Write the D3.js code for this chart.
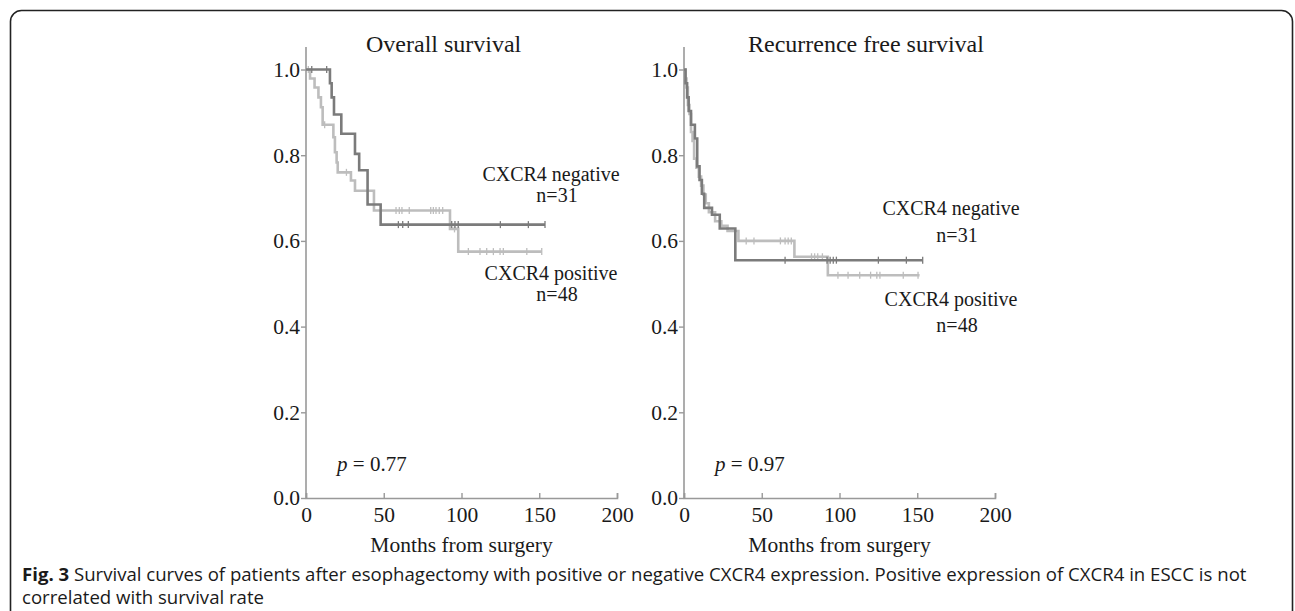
<!DOCTYPE html>
<html><head><meta charset="utf-8">
<script src="https://cdn.jsdelivr.net/npm/d3@7"></script>
<style>body{margin:0;background:#fff;overflow:hidden}</style>
</head><body><svg id="c" width="1295" height="611"></svg>
<script>
// ---- data ----
const xTicks = [0, 50, 100, 150, 200];
const yTicks = [0.0, 0.2, 0.4, 0.6, 0.8, 1.0];
const panelTitles = ["Overall survival", "Recurrence free survival"];
const pValues = ["0.77", "0.97"];
const groupNames = ["CXCR4 negative", "CXCR4 positive"];
const groupNs = ["n=31", "n=48"];

// Overall survival, CXCR4 negative (n=31)
const osNegTimes = [0, 15.4, 16.5, 18.0, 22.7, 31.5, 34.2, 39.6, 48.0];
const osNegSurv  = [1, 0.968, 0.935, 0.895, 0.850, 0.803, 0.765, 0.685, 0.638];
const osNegEnd = 153.7;
const osNegCens = [3.7, 13.3, 59.4, 62.2, 65.8, 93.7, 95.8, 97.9, 125, 143, 153.7];
// Overall survival, CXCR4 positive (n=48)
const osPosTimes = [0, 2.6, 5.5, 8.0, 9.6, 10.7, 17.6, 18.6, 19.7, 20.4, 28.9, 31.5, 43.7, 92.6, 97.9];
const osPosSurv  = [1, 0.979, 0.958, 0.935, 0.912, 0.871, 0.842, 0.807, 0.783, 0.760, 0.741, 0.717, 0.671, 0.628, 0.575];
const osPosEnd = 151.6;
const osPosCens = [1.5, 12, 26, 57.9, 60, 61.7, 66.4, 80.2, 81.9, 83.6, 85.7, 87.9, 95.5, 104.4, 111.9, 116.2, 120.5, 124.8, 126.9, 142, 151.6];

// Recurrence free survival, CXCR4 negative (n=31)
const rfsNegTimes = [0, 1, 2, 3, 4.5, 7, 8.5, 10, 11.5, 13, 18, 23, 33];
const rfsNegSurv  = [1, 0.968, 0.935, 0.903, 0.871, 0.839, 0.774, 0.742, 0.710, 0.677, 0.661, 0.629, 0.555];
const rfsNegEnd = 153.5;
const rfsNegCens = [65, 92, 94, 96, 98, 125, 143, 153.5];
// Recurrence free survival, CXCR4 positive (n=48)
const rfsPosTimes = [0, 0.8, 1.6, 2.5, 3.5, 4.5, 5.5, 6.5, 8, 9.5, 11, 12.5, 14, 16, 20, 24, 28, 35, 71, 92.5];
const rfsPosSurv  = [1, 0.979, 0.958, 0.917, 0.896, 0.854, 0.833, 0.792, 0.771, 0.750, 0.729, 0.708, 0.688, 0.667, 0.646, 0.635, 0.623, 0.600, 0.563, 0.520];
const rfsPosEnd = 151.5;
const rfsPosCens = [40, 45, 62, 65, 67, 69, 82, 84, 86, 89, 99, 105.5, 113, 120, 124, 126, 141, 150.5];

// ---- build ----
const svg = d3.select("#c");
const serif = "'Liberation Serif','Times New Roman',serif";
const sans = "'Open Sans','Noto Sans',sans-serif";

svg.append("rect").attr("x", 10.5).attr("y", 10.5).attr("width", 1282).attr("height", 660)
  .attr("rx", 11).attr("fill", "none").attr("stroke", "#222").attr("stroke-width", 1.6);

const DARK = "#7b7b7b", LIGHT = "#bdbdbd";

const panels = [
  { x0: 306, title: panelTitles[0], titleX: 366, p: pValues[0],
    series: [
      { t: osPosTimes, s: osPosSurv, end: osPosEnd, c: osPosCens, col: LIGHT },
      { t: osNegTimes, s: osNegSurv, end: osNegEnd, c: osNegCens, col: DARK }],
    lab: [{ x: 551, y: 181, gap: 21 }, { x: 551, y: 280, gap: 21 }] },
  { x0: 684, title: panelTitles[1], titleX: 748, p: pValues[1],
    series: [
      { t: rfsPosTimes, s: rfsPosSurv, end: rfsPosEnd, c: rfsPosCens, col: LIGHT },
      { t: rfsNegTimes, s: rfsNegSurv, end: rfsNegEnd, c: rfsNegCens, col: DARK }],
    lab: [{ x: 951, y: 215, gap: 27 }, { x: 951, y: 306, gap: 26 }] }
];

panels.forEach(P => {
  const x = d3.scaleLinear().domain([0, 200]).range([P.x0, P.x0 + 311]);
  const y = d3.scaleLinear().domain([0, 1]).range([498, 69.5]);
  const g = svg.append("g");

  // title
  g.append("text").attr("x", P.titleX).attr("y", 52).attr("font-family", serif)
    .attr("font-size", 24).attr("fill", "#1a1a1a").text(P.title);

  // x axis
  const xa = g.append("g").attr("transform", "translate(0,498)")
    .call(d3.axisBottom(x).tickValues(xTicks).tickSize(-5).tickPadding(9).tickFormat(d3.format("d")));
  xa.select(".domain").attr("stroke", "#999").attr("stroke-width", 1.6);
  xa.selectAll(".tick line").attr("stroke", "#999").attr("stroke-width", 1.4);
  xa.selectAll("text").attr("font-family", serif).attr("font-size", 21.5).attr("fill", "#1a1a1a");

  // y axis
  const ya = g.append("g").attr("transform", `translate(${P.x0},0)`)
    .call(d3.axisLeft(y).tickValues(yTicks).tickSize(5).tickPadding(1).tickFormat(d3.format(".1f")));
  ya.select(".domain").remove();
  g.append("line").attr("x1", P.x0).attr("x2", P.x0).attr("y1", 47).attr("y2", 498)
    .attr("stroke", "#999").attr("stroke-width", 1.6);
  ya.selectAll(".tick line").attr("stroke", "#999").attr("stroke-width", 1.4);
  ya.selectAll("text").attr("font-family", serif).attr("font-size", 21.5).attr("fill", "#1a1a1a");

  // x axis label
  g.append("text").attr("x", x(100)).attr("y", 552).attr("text-anchor", "middle")
    .attr("font-family", serif).attr("font-size", 21.5).attr("fill", "#1a1a1a").text("Months from surgery");

  // p value
  const pt = g.append("text").attr("x", x(20)).attr("y", 471).attr("font-family", serif)
    .attr("font-size", 21).attr("fill", "#1a1a1a");
  pt.append("tspan").attr("font-style", "italic").text("p");
  pt.append("tspan").text(" = " + P.p);

  // curves
  const line = d3.line().x(d => x(d[0])).y(d => y(d[1])).curve(d3.curveStepAfter);
  P.series.forEach(S => {
    const pts = S.t.map((t, i) => [t, S.s[i]]);
    pts.push([S.end, S.s[S.s.length - 1]]);
    g.append("path").datum(pts).attr("d", line).attr("fill", "none")
      .attr("stroke", S.col).attr("stroke-width", 2.6);
    const survAt = t => { let v = 1; S.t.forEach((tt, i) => { if (tt <= t) v = S.s[i]; }); return v; };
    g.selectAll(null).data(S.c).enter().append("line")
      .attr("x1", d => x(d)).attr("x2", d => x(d))
      .attr("y1", d => y(survAt(d)) - 3.5).attr("y2", d => y(survAt(d)) + 3.5)
      .attr("stroke", S.col).attr("stroke-width", 1.3);
  });

  // group labels
  [0, 1].forEach(k => {
    const L = P.lab[k];
    g.append("text").attr("font-family", serif).attr("font-size", 20)
      .attr("fill", "#1a1a1a").attr("text-anchor", "middle")
      .attr("x", L.x).attr("y", L.y).text(groupNames[k]);
    g.append("text").attr("font-family", serif).attr("font-size", 20)
      .attr("fill", "#1a1a1a").attr("text-anchor", "middle")
      .attr("x", L.x + 6).attr("y", L.y + L.gap).text(groupNs[k]);
  });
});

// caption
const cap = svg.append("text").attr("x", 22).attr("y", 581).attr("font-family", sans)
  .attr("font-size", 18.6).attr("fill", "#1a1a1a");
cap.append("tspan").attr("font-weight", "bold").text("Fig. 3");
cap.append("tspan").text(" Survival curves of patients after esophagectomy with positive or negative CXCR4 expression. Positive expression of CXCR4 in ESCC is not");
svg.append("text").attr("x", 22).attr("y", 604).attr("font-family", sans)
  .attr("font-size", 18.6).attr("fill", "#1a1a1a").text("correlated with survival rate");
</script></body></html>
